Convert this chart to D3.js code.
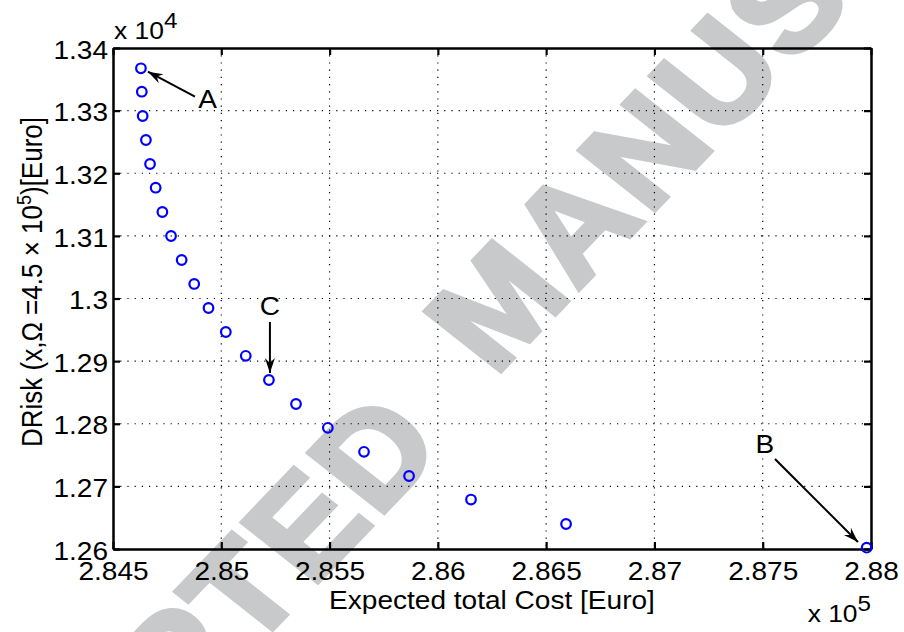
<!DOCTYPE html>
<html>
<head>
<meta charset="utf-8">
<script src="https://cdn.jsdelivr.net/npm/d3@7"></script>
<style>
  html, body { margin: 0; padding: 0; background: #fff; }
  svg { display: block; font-family: "Liberation Sans", Arial, sans-serif; }
</style>
</head>
<body>
<svg id="chart" width="904" height="632"></svg>
<script>
// Expected total cost (units of 1e5 Euro)
const costValues = [2.84629, 2.84633, 2.84637, 2.84652, 2.84671, 2.84697, 2.84728, 2.84768,
  2.84817, 2.84875, 2.84941, 2.85021, 2.85113, 2.85220, 2.85345, 2.85492, 2.85659,
  2.85867, 2.86153, 2.86592, 2.87980];
// DRisk (units of 1e4 Euro)
const riskValues = [1.33676, 1.33302, 1.32914, 1.32531, 1.32148, 1.31769, 1.31381, 1.30998,
  1.30615, 1.30232, 1.29848, 1.29465, 1.29085, 1.28699, 1.28315, 1.27935, 1.27552,
  1.27166, 1.26790, 1.26399, 1.26021];
const xTicks = [2.845, 2.85, 2.855, 2.86, 2.865, 2.87, 2.875, 2.88];
const xTickLabels = ["2.845", "2.85", "2.855", "2.86", "2.865", "2.87", "2.875", "2.88"];
const yTicks = [1.26, 1.27, 1.28, 1.29, 1.30, 1.31, 1.32, 1.33, 1.34];
const yTickLabels = ["1.26", "1.27", "1.28", "1.29", "1.3", "1.31", "1.32", "1.33", "1.34"];
const annotLabels = ["A", "C", "B"];
const annotIndex = [0, 13, 20];

const svg = d3.select("#chart");
const m = { left: 113, right: 871, top: 48, bottom: 549 };
const x = d3.scaleLinear().domain([2.845, 2.88]).range([m.left, m.right]);
const y = d3.scaleLinear().domain([1.26, 1.34]).range([m.bottom, m.top]);
const SX = 1.1;   // horizontal stretch of the original figure's text
const fs = 25.5;

// watermark (drawn under everything)
const em = 132, ls = 4, ang = -49, rad = ang * Math.PI / 180;
const u = [Math.cos(rad), Math.sin(rad)], n = [Math.sin(rad), -Math.cos(rad)];
const wm = svg.append("g").attr("transform", `scale(${SX},1)`)
  .attr("fill", "#c8c9cb").attr("stroke", "#c8c9cb").attr("stroke-width", 5)
  .attr("stroke-linejoin", "miter").attr("font-weight", "bold").attr("font-size", em)
  .attr("letter-spacing", ls);
const mC = [495 / SX, 305], dC = [373 / SX, 452];
const a1 = 0.4165 * em, a2 = 0.361 * em + ls, h2 = 0.358 * em;
const mO = [mC[0] - a1 * u[0] - h2 * n[0], mC[1] - a1 * u[1] - h2 * n[1]];
const dO = [dC[0] + a2 * u[0] - h2 * n[0], dC[1] + a2 * u[1] - h2 * n[1]];
wm.append("text").attr("transform", `translate(${mO[0]},${mO[1]}) rotate(${ang})`).text("MANUSCRIPT");
wm.append("text").attr("transform", `translate(${dO[0]},${dO[1]}) rotate(${ang})`)
  .attr("text-anchor", "end").text("ACCEPTED");

// grid
const grid = svg.append("g").attr("stroke", "#000").attr("stroke-width", 1.2)
  .attr("stroke-dasharray", "1.2,6");
grid.selectAll("line.gx").data(xTicks.slice(1, -1)).enter().append("line")
  .attr("x1", d => x(d)).attr("x2", d => x(d)).attr("y1", m.top).attr("y2", m.bottom);
grid.selectAll("line.gy").data(yTicks.slice(1, -1)).enter().append("line")
  .attr("y1", d => y(d)).attr("y2", d => y(d)).attr("x1", m.left).attr("x2", m.right);

// axes (inward ticks, box)
const tickLen = 7;
const xb = svg.append("g").attr("transform", `translate(0,${m.bottom})`)
  .call(d3.axisBottom(x).tickValues(xTicks).tickSizeInner(-tickLen).tickSizeOuter(0)
    .tickPadding(13).tickFormat((d, i) => xTickLabels[i]));
const xt = svg.append("g").attr("transform", `translate(0,${m.top})`)
  .call(d3.axisTop(x).tickValues(xTicks).tickSizeInner(-tickLen).tickSizeOuter(0).tickFormat(""));
const yl = svg.append("g").attr("transform", `translate(${m.left},0)`)
  .call(d3.axisLeft(y).tickValues(yTicks).tickSizeInner(-tickLen).tickSizeOuter(0)
    .tickPadding(5).tickFormat((d, i) => yTickLabels[i]));
const yr = svg.append("g").attr("transform", `translate(${m.right},0)`)
  .call(d3.axisRight(y).tickValues(yTicks).tickSizeInner(-tickLen).tickSizeOuter(0).tickFormat(""));
[xb, xt, yl, yr].forEach(g => {
  g.select(".domain").attr("stroke", "#000").attr("stroke-width", 2.5);
  g.selectAll(".tick line").attr("stroke", "#000").attr("stroke-width", 2.2);
  g.selectAll("text").attr("font-family", "Liberation Sans, Arial, sans-serif")
    .attr("font-size", fs).attr("fill", "#000");
});
yl.selectAll(".tick text").attr("dy", "0.4em").attr("x", -5 / SX).attr("transform", `scale(${SX},1)`);
xb.selectAll(".tick text").attr("dy", "0.71em").attr("transform", `scale(${SX},1)`);

// helper: stretched text at a point
function stext(px, py, extra) {
  return svg.append("text").attr("transform", `translate(${px},${py}) scale(${SX},1)${extra || ""}`);
}

// axis labels
stext((m.left + m.right) / 2, 609).attr("text-anchor", "middle")
  .attr("font-size", fs).text("Expected total Cost [Euro]");
const ylab = stext(42, 282, " rotate(-90)").attr("text-anchor", "middle").attr("font-size", 26);
ylab.append("tspan").text("DRisk (x,\u03A9 =4.5 \u00D7 10");
ylab.append("tspan").attr("font-size", 18).attr("dy", -10).text("5");
ylab.append("tspan").attr("dy", 10).text(")[Euro]");

// exponent labels
const e4 = stext(114, 39).attr("font-size", 24);
e4.append("tspan").text("x 10");
e4.append("tspan").attr("font-size", 22).attr("dy", -11).text("4");
const e5 = stext(871, 622).attr("font-size", 24).attr("text-anchor", "end");
e5.append("tspan").text("x 10");
e5.append("tspan").attr("font-size", 22).attr("dy", -11).text("5");

// points
svg.append("g").selectAll("circle").data(costValues).enter().append("circle")
  .attr("cx", d => x(d)).attr("cy", (d, i) => y(riskValues[i])).attr("r", 4.8)
  .attr("fill", "none").attr("stroke", "#0000ff").attr("stroke-width", 2.2);

// annotations: offsets relative to annotated point
const annotText = [[66.7, 40], [1, -65], [-101.7, -94.7]];
const annotTail = [[54, 28.4], [1, -58], [-91.7, -88.7]];
const annotTip = [[7, 3.4], [1, -7], [-8.7, -5.7]];
const defs = svg.append("defs");
defs.append("marker").attr("id", "ah").attr("viewBox", "-16 -6 17 12")
  .attr("refX", 0).attr("refY", 0).attr("markerWidth", 17).attr("markerHeight", 12)
  .attr("markerUnits", "userSpaceOnUse").attr("orient", "auto")
  .append("path").attr("d", "M0,0 L-15,-5 L-10,0 L-15,5 Z").attr("fill", "#000");
const ann = svg.append("g");
annotIndex.forEach((idx, k) => {
  const px = x(costValues[idx]), py = y(riskValues[idx]);
  ann.append("line")
    .attr("x1", px + annotTail[k][0]).attr("y1", py + annotTail[k][1])
    .attr("x2", px + annotTip[k][0]).attr("y2", py + annotTip[k][1])
    .attr("stroke", "#000").attr("stroke-width", 2).attr("marker-end", "url(#ah)");
  ann.append("text")
    .attr("transform", `translate(${px + annotText[k][0]},${py + annotText[k][1]}) scale(${SX},1)`)
    .attr("text-anchor", "middle").attr("font-size", fs).text(annotLabels[k]);
});
</script>
</body>
</html>
